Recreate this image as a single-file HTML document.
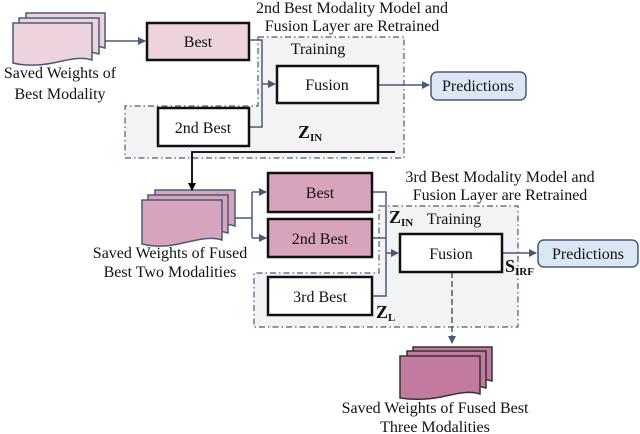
<!DOCTYPE html>
<html><head><meta charset="utf-8"><style>
html,body{margin:0;padding:0;background:#fff;}
svg{display:block;}
svg text{font-family:"Liberation Serif","Times New Roman",Times,"DejaVu Serif",serif;}
</style></head><body>
<svg width="640" height="434" viewBox="0 0 640 434" xmlns="http://www.w3.org/2000/svg">
<defs>
<marker id="a" markerWidth="8" markerHeight="8" refX="7" refY="4" orient="auto" markerUnits="userSpaceOnUse"><path d="M0,0 L8,4 L0,8 z" fill="#4a5a75"/></marker>
<marker id="k" markerWidth="8" markerHeight="8" refX="7" refY="4" orient="auto" markerUnits="userSpaceOnUse"><path d="M0,0 L8,4 L0,8 z" fill="#000"/></marker>
</defs>
<path d="M258,37 H404 V158 H125 V106 H258 Z" fill="#f3f3f3" stroke="#4a5a75" stroke-width="1.2" stroke-dasharray="6,3,1.5,3"/>
<path d="M379,206 H518 V327 H254 V273 H379 Z" fill="#f3f3f3" stroke="#4a5a75" stroke-width="1.2" stroke-dasharray="6,3,1.5,3"/>
<g fill="#ecd3dd" stroke="#4a5a75" stroke-width="1.5">
<path d="M26,13 H105 V48 C93,44 80,48 66,50 C50,52 38,52 26,50 Z"/>
<path d="M19,18 H99 V54 C87,50 74,54 60,56 C44,58 32,58 19,56 Z"/>
<path d="M13,23 H92 V60 C80,56 67,60 53,63 C37,66 25,66 13,63 Z"/>
</g>
<g fill="#d7a3bd" stroke="#4a5a75" stroke-width="1.5">
<path d="M155,190 H235 V226 C223,222 210,226 196,229 C180,232 168,232 155,229 Z"/>
<path d="M148,195 H228 V233 C216,229 203,233 189,236 C173,239 161,239 148,236 Z"/>
<path d="M142,200 H222 V240 C210,236 197,240 183,243 C167,247 155,247 142,244 Z"/>
</g>
<g fill="#c27b9f" stroke="#333" stroke-width="1.5">
<path d="M413,347 H492 V381 C480,377 467,381 453,384 C437,387 425,387 413,385 Z"/>
<path d="M407,351 H486 V388 C474,384 461,388 447,391 C431,394 419,394 407,392 Z"/>
<path d="M400,356 H480 V394 C468,390 455,394 441,397 C425,400 413,400 400,398 Z"/>
</g>
<g fill="none" stroke="#4a5a75" stroke-width="1.5">
<path d="M105,41 H145" marker-end="url(#a)"/>
<path d="M249,40 H262 V127 H249"/>
<path d="M262,84 H275" marker-end="url(#a)"/>
<path d="M378,85 H429" marker-end="url(#a)"/>
<path d="M235,218 H252"/>
<path d="M252,192 V238"/>
<path d="M252,192 H266" marker-end="url(#a)"/>
<path d="M252,238 H266" marker-end="url(#a)"/>
<path d="M372,192 H386 V296 H372"/>
<path d="M372,238 H386"/>
<path d="M386,253 H398" marker-end="url(#a)"/>
<path d="M502,253 H536" marker-end="url(#a)"/>
<path d="M452,272 V343" stroke-dasharray="6,3" marker-end="url(#a)"/>
</g>
<path d="M395,152 H192 V190" fill="none" stroke="#000" stroke-width="1.8" marker-end="url(#k)"/>
<g stroke="#111" stroke-width="2.5">
<rect x="147" y="23" width="102" height="37" fill="#ecd3dd"/>
<rect x="277" y="66" width="101" height="37" fill="#fff"/>
<rect x="158" y="108" width="91" height="38" fill="#fff"/>
<rect x="268" y="173" width="104" height="39" fill="#d7a3bd"/>
<rect x="268" y="219" width="104" height="38" fill="#d7a3bd"/>
<rect x="268" y="277" width="104" height="38" fill="#fff"/>
<rect x="400" y="234" width="102" height="38" fill="#fff"/>
</g>
<rect x="431" y="72" width="95" height="28" rx="6" fill="#dbe7f4" stroke="#4a5a75" stroke-width="1.5"/>
<rect x="538" y="240" width="100" height="27" rx="6" fill="#dbe7f4" stroke="#4a5a75" stroke-width="1.5"/>
<g font-size="16" fill="#111" text-anchor="middle">
<text x="198" y="47">Best</text>
<text x="327" y="90">Fusion</text>
<text x="203" y="133">2nd Best</text>
<text x="320" y="198">Best</text>
<text x="320" y="244">2nd Best</text>
<text x="320" y="302">3rd Best</text>
<text x="451" y="259">Fusion</text>
<text x="478" y="91">Predictions</text>
<text x="588" y="259">Predictions</text>
<text x="352" y="13">2nd Best Modality Model and</text>
<text x="352" y="31">Fusion Layer are Retrained</text>
<text x="500" y="182">3rd Best Modality Model and</text>
<text x="500" y="200">Fusion Layer are Retrained</text>
<text x="60" y="78">Saved Weights of</text>
<text x="60" y="99">Best Modality</text>
<text x="170" y="258">Saved Weights of Fused</text>
<text x="170" y="277">Best Two Modalities</text>
<text x="435" y="413">Saved Weights of Fused Best</text>
<text x="435" y="432">Three  Modalities</text>
<text x="318" y="54">Training</text>
<text x="454" y="224">Training</text>
</g>
<g font-weight="bold" fill="#111">
<text x="298" y="138" font-size="18">Z<tspan font-size="11" dy="3">IN</tspan></text>
<text x="389" y="223" font-size="18">Z<tspan font-size="11" dy="3">IN</tspan></text>
<text x="376" y="318" font-size="18">Z<tspan font-size="11" dy="3">L</tspan></text>
<text x="505" y="272" font-size="18">S<tspan font-size="11" dy="3">IRF</tspan></text>
</g>
</svg>
</body></html>
